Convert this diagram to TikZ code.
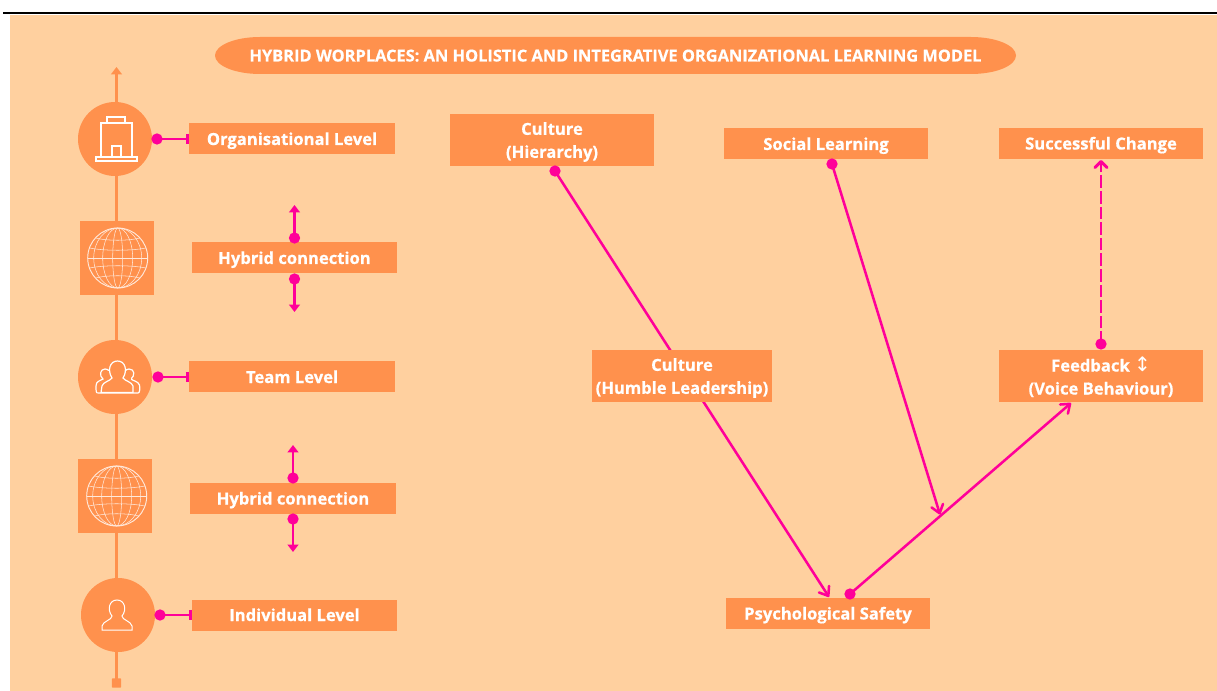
\documentclass[tikz,border=0pt]{standalone}
\usepackage{fontspec}
\setmainfont[BoldFeatures={FakeBold=0.6}]{Open Sans}
\newfontfamily\symfont{DejaVu Sans}
\usetikzlibrary{arrows.meta,backgrounds,calc}
\definecolor{peach}{HTML}{FFD09F}
\definecolor{orangeb}{HTML}{FF914D}
\definecolor{pinkl}{HTML}{FF0099}
\newcommand{\toprule}{\rule{0pt}{12.5pt}}
\tikzset{
  x=0.75pt,y=-0.75pt,
  lbl/.style={fill=orangeb,text=white,font=\bfseries\fontsize{12.45}{17.25}\selectfont,align=center,inner sep=0pt,anchor=center},
  box/.style n args={2}{lbl,minimum width=#1*0.75pt,minimum height=#2*0.75pt},
  one/.style={text height=11pt,text depth=2pt},
  roundicon/.style={circle,fill=orangeb,inner sep=0pt,minimum size=55.5pt},
  squareicon/.style={fill=orangeb,inner sep=0pt,minimum size=55.5pt},
  dot/.style={circle,fill=pinkl,inner sep=0pt,minimum size=8.5pt},
  link/.style={draw=pinkl,line width=1.9pt},
  axis/.style={draw=orangeb,line width=1.9pt},
  icon/.style={draw=white,line width=0.9pt,fill=none},
  thin icon/.style={draw=white!80!orangeb,line width=0.4pt,fill=none},
  globeicon/.pic={
    \draw[thin icon,line width=0.7pt] (0,0) circle (30);
    \foreach \r in {5,15,24}{\draw[thin icon] (0,0) ellipse ({\r} and 30);}
    \draw[thin icon] (-30,0) -- (30,0);
    \foreach \yy/\w/\b in {-20/22/3,-10/28/3,10/28/-3,20/22/-3}{
      \draw[thin icon] (-\w,\yy) .. controls (-\w/2,\yy+\b) and (\w/2,\yy+\b) .. (\w,\yy);
    }
  }
}
\begin{document}
\begin{tikzpicture}
\useasboundingbox (0,0) rectangle (1217,691);
\begin{scope}[on background layer]
  \fill[peach] (10,15) rectangle (1217,691);
\end{scope}
\draw[black,line width=1.5pt] (3,13) -- (1217,13);
% title
\fill[orangeb] (260,37) -- (971,37) arc[start angle=-90,end angle=90,x radius=45,y radius=18.5]
  -- (260,74) arc[start angle=90,end angle=270,x radius=45,y radius=18.5] -- cycle;
\node[lbl,one,fill=none,font=\bfseries\fontsize{12.3}{14}\selectfont] (title) at (615.5,55.5) {HYBRID WORPLACES: AN HOLISTIC AND INTEGRATIVE ORGANIZATIONAL LEARNING MODEL};
% left column icons
\node[roundicon] (orgi) at (115,139) {};
\node[squareicon] (gl1) at (116.5,258) {};
\node[roundicon] (teami) at (115,377) {};
\node[squareicon] (gl2) at (115,496) {};
\node[roundicon] (indi) at (118,615) {};
\node[fill=orangeb,inner sep=0pt,minimum size=7pt,rounded corners=0.5pt] (axend) at (116.5,683) {};
\coordinate (axtop) at (116.5,67);
\begin{scope}[on background layer]
  \draw[axis,-{Triangle[width=8pt,length=5.5pt]}] (axend.center) -- (axtop);
\end{scope}
\pic at (117.7,258) {globeicon};
\pic at (116.7,496) {globeicon};
% building
\draw[icon] (101,157) -- (101,123) -- (132,123) -- (132,157);
\draw[icon] (107,123) -- (107,117) -- (125,117) -- (125,123);
\draw[icon] (112,157) -- (112,146) -- (121,146) -- (121,157);
\draw[icon] (96,157) rectangle (137,161);
% team
\draw[icon] (97.5,393) -- (138,393) .. controls (140,393) and (140,388) .. (139.5,385) .. controls (138,381) and (133,381) .. (131,379) .. controls (135,376) and (135,369) .. (129,369) .. controls (125,369) and (124,373) .. (124,376);
\draw[icon] (110,376) .. controls (110,372) and (109,369) .. (105,369) .. controls (100,369) and (99,376) .. (103,379) .. controls (100,381) and (96,381) .. (96,386) .. controls (96,390) and (96,393) .. (97.5,393);
\fill[orangeb] (105,392) rectangle (131,371);
\draw[icon] (101,392.5) -- (133,392.5) -- (133,386) .. controls (132,382) and (125,381) .. (123,378) .. controls (128,370) and (125,361) .. (117.5,361) .. controls (110,361) and (107,370) .. (112,378) .. controls (110,381) and (103,382) .. (102,386) -- cycle;
% person
\draw[icon,line width=0.75pt] (102,630) -- (132,630) -- (132,626) .. controls (131,621) and (122,620) .. (122,616) .. controls (127,610) and (125,600) .. (117,600) .. controls (109,600) and (107,610) .. (112,616) .. controls (112,620) and (103,621) .. (102,626) -- cycle;
% left labels
\node[box={206}{31},one] (org) at (292,139) {Organisational Level};
\node[box={205}{31},one] (hyb1) at (294.5,258) {Hybrid connection};
\node[box={206}{31},one] (team) at (292,377) {Team Level};
\node[box={206}{31},one] (hyb2) at (293,498.5) {Hybrid connection};
\node[box={205}{31},one] (ind) at (294.5,615) {Individual Level};
% right labels
\node[box={204}{52}] (hier) at (552,140) {\toprule Culture\\(Hierarchy)};
\node[box={204}{31},one] (soc) at (826,144) {Social Learning};
\node[box={204}{31},one] (succ) at (1101,143.5) {Successful Change};
\node[box={180}{52}] (humble) at (682,376) {\toprule Culture\\(Humble Leadership)};
\node[box={204}{52}] (fb) at (1101,376) {\toprule Feedback \smash{\symfont\mdseries\fontsize{15}{15}\selectfont ↕}\\(Voice Behaviour)};
\node[box={204}{31},one] (psy) at (828,613.5) {Psychological Safety};
% dots
\node[dot] (d1) at (157,139) {};
\node[dot] (d2) at (158,377) {};
\node[dot] (d3) at (160,615) {};
\node[dot] (h1a) at (294.5,238) {};
\node[dot] (h1b) at (294.5,279) {};
\node[dot] (h2a) at (293,478) {};
\node[dot] (h2b) at (293,519) {};
\node[dot] (dh) at (555,171) {};
\node[dot] (ds) at (832,164) {};
\node[dot] (dp) at (850,594) {};
\node[dot] (df) at (1101,344) {};
\coordinate (t1a) at (294.5,205);
\coordinate (t1b) at (294.5,312);
\coordinate (t2a) at (293,445);
\coordinate (t2b) at (293,552);
\coordinate (hpsy) at (829,597);
\coordinate (fbin) at (1071,403);
\coordinate (succin) at (1101,160);
\coordinate (join) at (940,514.5);
% connectors
\draw[link,-{Bar[width=8pt,length=1.5pt]}] (d1.center) -- (org.west);
\draw[link,-{Bar[width=8pt,length=1.5pt]}] (d2.center) -- (team.west);
\draw[link,-{Bar[width=8pt,length=1.5pt]}] (d3.center) -- (ind.west);
\foreach \a/\b in {h1a/t1a,h1b/t1b,h2a/t2a,h2b/t2b}{
  \draw[link,-{Triangle[width=8pt,length=5.5pt]}] (\a.center) -- (\b);
}
\begin{scope}[on background layer]
  \draw[link,-{Straight Barb[length=6pt,width=9pt,round]}] (dh.center) -- (hpsy);
\end{scope}
\draw[link,-{Straight Barb[length=6pt,width=9pt,round]}] (ds.center) -- (join);
\draw[link,-{Straight Barb[length=6pt,width=9pt,round]}] (dp.center) -- (fbin);
\draw[link,line width=2.2pt,dash pattern=on 9.5pt off 2.2pt,-{Straight Barb[length=4.5pt,width=9pt,round]}] (df.center) -- (succin);
\end{tikzpicture}
\end{document}
